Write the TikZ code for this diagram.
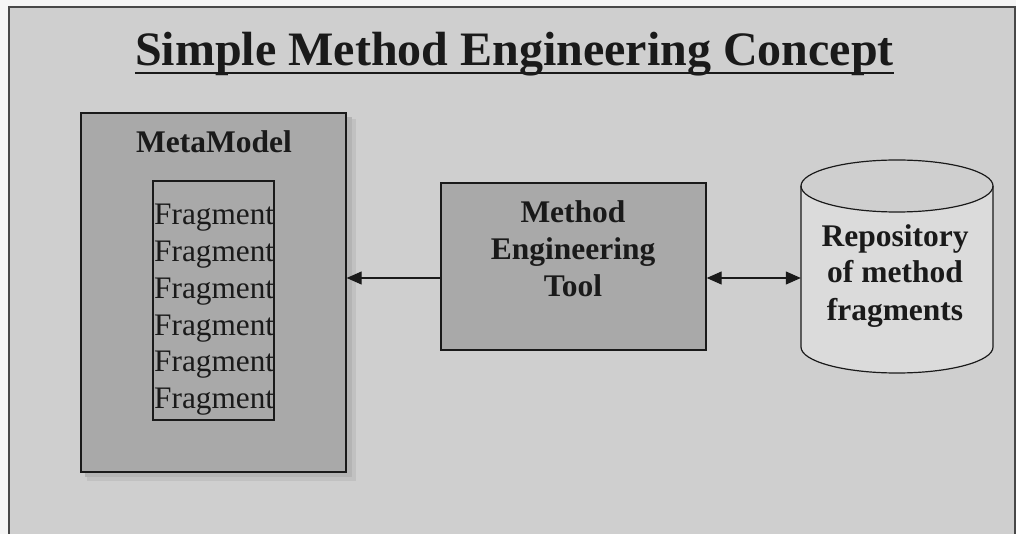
\documentclass[tikz,border=0pt]{standalone}
\usepackage{fontspec}
\setmainfont{Liberation Serif}
\usetikzlibrary{arrows.meta}
\definecolor{pagebg}{HTML}{CFCFCF}
\definecolor{boxfill}{HTML}{A9A9A9}
\definecolor{ink}{HTML}{1A1A1A}
\definecolor{shadowgray}{HTML}{B4B4B4}
\tikzset{
  titlefont/.style={font=\fontsize{48}{48}\selectfont\bfseries},
  boldlabel/.style={font=\fontsize{31.5}{37}\selectfont\bfseries, text=ink, align=center, inner sep=0pt},
  fraglabel/.style={font=\fontsize{31.3}{36.7}\selectfont, text=ink, inner sep=0pt, anchor=base west},
  greybox/.style={draw=ink, line width=1.3pt, fill=boxfill, inner sep=0pt},
  link/.style={draw=ink, line width=1.1pt, -{Triangle[length=15pt,width=13pt]}},
  bilink/.style={draw=ink, line width=1.1pt, {Triangle[length=15pt,width=13pt]}-{Triangle[length=15pt,width=13pt]}},
}
\begin{document}
\begin{tikzpicture}[x=1pt,y=-1pt]
  \useasboundingbox (0,0) rectangle (1016,534);
  % page and frame
  \fill[white!96!black] (0,0) rectangle (1016,534);
  \fill[pagebg] (9,7) rectangle (1015,534);
  \draw[ink!80, line width=1.2pt] (9,534) -- (9,7) -- (1015,7) -- (1015,534);

  % title
  \node[titlefont, text=ink, inner sep=0pt, anchor=base] (title) at (514.5,66) {Simple Method Engineering Concept};
  \draw[ink, line width=2.6pt] ([yshift=-7pt]title.base west) -- ([yshift=-7pt]title.base east);

  % metamodel box with soft shadow
  \fill[shadowgray, opacity=0.5] (87,119) rectangle (356,481);
  \fill[shadowgray] (85,117) rectangle (352,477);
  \node[greybox, minimum width=265pt, minimum height=359pt] (meta) at (213.5,292.5) {};
  \node[boldlabel, anchor=base] (metatitle) at (214,153) {MetaModel};
  \node[greybox, minimum width=121pt, minimum height=239pt] (frags) at (213.5,300.5) {};
  \foreach \i/\y in {1/225, 2/261.7, 3/298.3, 4/335, 5/371.7, 6/408.3}
    \node[fraglabel] (frag\i) at (154,\y) {Fragment};

  % method engineering tool
  \node[greybox, minimum width=265pt, minimum height=167pt] (tool) at (573.5,266.5) {};
  \node[boldlabel, anchor=base] (toolA) at (573,223) {Method};
  \node[boldlabel, anchor=base] (toolB) at (573,260) {Engineering};
  \node[boldlabel, anchor=base] (toolC) at (573,297) {Tool};

  % repository cylinder
  \node[minimum width=192pt, minimum height=213pt, inner sep=0pt] (repo) at (897,266.5) {};
  \fill[pagebg!75!white] (801,186) -- (801,347) arc[start angle=180, end angle=360, x radius=96, y radius=-26]
        -- (993,186) arc[start angle=0, end angle=180, x radius=96, y radius=26] -- cycle;
  \draw[ink, line width=1.2pt] (801,186) -- (801,347) arc[start angle=180, end angle=360, x radius=96, y radius=-26] -- (993,186);
  \draw[ink, line width=1.2pt] (897,186) ellipse[x radius=96, y radius=26];
  \node[boldlabel, anchor=base] (repoA) at (895,247) {Repository};
  \node[boldlabel, anchor=base] (repoB) at (895,283) {of method};
  \node[boldlabel, anchor=base] (repoC) at (895,320) {fragments};

  % connectors
  \coordinate (level) at (0,278);
  \draw[link] (tool.west |- level) -- (meta.east |- level);
  \draw[bilink] (tool.east |- level) -- (repo.west |- level);
\end{tikzpicture}
\end{document}
